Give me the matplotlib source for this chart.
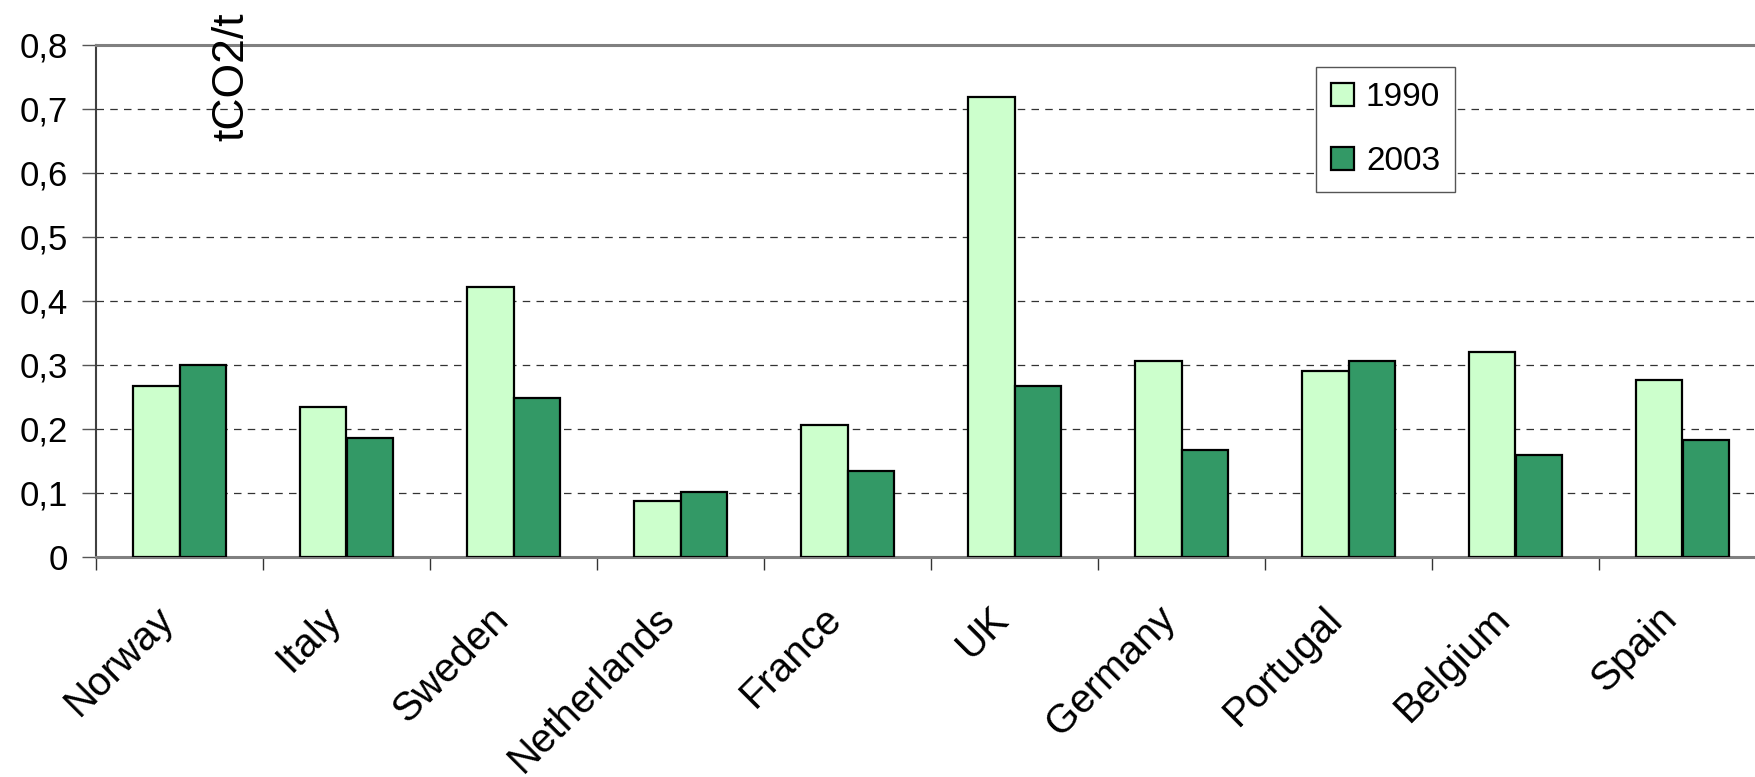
import matplotlib
matplotlib.use('Agg')
import matplotlib.pyplot as plt
import matplotlib.transforms as mtransforms
import numpy as np

countries = ['Norway', 'Italy', 'Sweden', 'Netherlands', 'France',
             'UK', 'Germany', 'Portugal', 'Belgium', 'Spain']
vals_1990 = [0.266, 0.233, 0.422, 0.087, 0.205, 0.719, 0.305, 0.290, 0.319, 0.276]
vals_2003 = [0.300, 0.186, 0.248, 0.101, 0.134, 0.266, 0.167, 0.305, 0.158, 0.182]
y_ticks = [0, 0.1, 0.2, 0.3, 0.4, 0.5, 0.6, 0.7, 0.8]
y_labels = ['0', '0,1', '0,2', '0,3', '0,4', '0,5', '0,6', '0,7', '0,8']

plt.rcParams['font.family'] = ['Liberation Sans', 'DejaVu Sans']

fig = plt.figure(figsize=(17.56, 7.77), dpi=100)
ax = fig.add_axes([96 / 1756, 1 - 556.5 / 777, 1670 / 1756, 511.7 / 777])

n = len(countries)
centers = np.arange(n) + 0.5
w = 0.28
ax.bar(centers - w / 2, vals_1990, w, color='#CCFFCC', edgecolor='black', linewidth=1.6, label='1990', zorder=3)
ax.bar(centers + w / 2, vals_2003, w, color='#339966', edgecolor='black', linewidth=1.6, label='2003', zorder=3)

ax.set_xlim(0, n)
ax.set_ylim(0, 0.8)
ax.set_yticks(y_ticks)
ax.set_yticklabels(y_labels, fontsize=25)
ax.tick_params(axis='y', length=10, width=1, color='#555555', pad=10)

# category boundaries as major ticks, names on minor ticks at the centers
ax.set_xticks(np.arange(n + 1))
ax.set_xticklabels([])
ax.tick_params(axis='x', which='major', length=9.5, width=1, color='#333333')
ax.set_xticks(centers, minor=True)
ax.set_xticklabels(countries, minor=True, fontsize=29, rotation=45,
                   ha='right', va='top', rotation_mode='anchor')
ax.tick_params(axis='x', which='minor', length=0, pad=31)
shift = mtransforms.ScaledTranslation(-0.25, 0, fig.dpi_scale_trans)
for lbl in ax.get_xticklabels(minor=True):
    lbl.set_transform(lbl.get_transform() + shift)

for y in y_ticks[1:-1]:
    ax.axhline(y, color='#333333', linestyle=(0, (6, 5)), linewidth=0.9, zorder=1)

ax.spines['right'].set_visible(False)
ax.spines['top'].set_color('#808080')
ax.spines['top'].set_linewidth(2.2)
ax.spines['left'].set_color('#404040')
ax.spines['left'].set_linewidth(1.5)
ax.spines['bottom'].set_color('#808080')
ax.spines['bottom'].set_linewidth(2.2)

fig.text(232 / 1756, 1 - 12 / 777, 'tCO2/t', rotation=90, fontsize=32,
         ha='center', va='top')

leg = ax.legend(loc='upper left', bbox_to_anchor=(1316 / 1756, 1 - 67 / 777),
                bbox_transform=fig.transFigure, borderaxespad=0, fontsize=24,
                fancybox=False, framealpha=1, edgecolor='#555555',
                handlelength=0.7, handleheight=0.7, handletextpad=0.35,
                labelspacing=1.0, borderpad=0.45)
leg.get_frame().set_linewidth(1.0)

plt.savefig('out.png', dpi=100)
plt.close()
